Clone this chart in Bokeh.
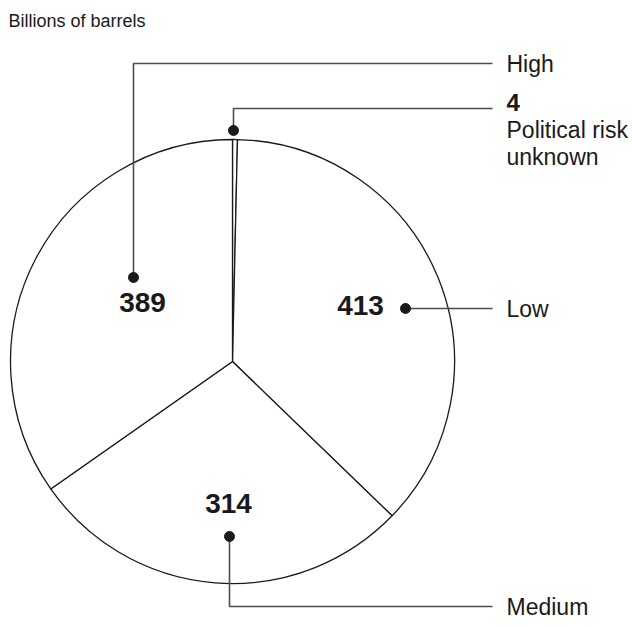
import math
from bokeh.plotting import figure
from bokeh.models import Range1d
from bokeh.core.properties import value
from bokeh.embed import file_html
from bokeh.resources import INLINE

# ---- data ----
title = "Billions of barrels"
categories = ["Political risk unknown", "Low", "Medium", "High"]
values = [4, 413, 314, 389]
value_labels = ["4", "413", "314", "389"]
category_labels = ["Political risk\nunknown", "Low", "Medium", "High"]

# ---- layout (reference pixel coordinates, y downwards) ----
W, H = 632, 627
CX, CY_S, R = 232, 361, 222
def Y(ys):
    return H - ys

# value label visual centre (x, y) in screen px
value_pos = [(506, 102), (360, 305), (228, 503), (142, 302)]
value_size = ["24px", "28px", "28px", "28px"]
value_align = ["left", "center", "center", "center"]
# leader dots and elbows
dot_pos = [(233, 130), (405, 308), (229, 536), (133, 277)]
elbow_y = [108, 308, 606, 63]
leader_end_x = 492
cat_x = 506
cat_center = [129, 308, 606, 63]
line_gap = 27
FONT = "Liberation Sans"

p = figure(width=W, height=H, x_range=Range1d(0, W), y_range=Range1d(0, H),
           output_backend="svg", toolbar_location=None, min_border=0)
p.axis.visible = False
p.grid.visible = False
p.outline_line_color = None
p.background_fill_color = "white"
p.border_fill_color = "white"

# ---- pie (clockwise from 12 o'clock) ----
total = float(sum(values))
starts, ends = [], []
theta = 0.0
for v in values:
    t1 = theta
    t2 = theta + v / total * 2 * math.pi
    starts.append(math.pi / 2 - t2)
    ends.append(math.pi / 2 - t1)
    theta = t2
p.wedge(x=[CX] * len(values), y=[Y(CY_S)] * len(values), radius=R,
        start_angle=starts, end_angle=ends,
        fill_color="white", line_color="#1a1a1a", line_width=1.3)

# ---- leaders ----
xs, ys = [], []
for (dx, dy), ey in zip(dot_pos, elbow_y):
    if abs(dy - ey) < 1:
        xs.append([dx, leader_end_x]); ys.append([Y(dy), Y(ey)])
    else:
        xs.append([dx, dx, leader_end_x]); ys.append([Y(dy), Y(ey), Y(ey)])
p.multi_line(xs=xs, ys=ys, line_color="#4d4d4d", line_width=1.6)
p.scatter(x=[d[0] for d in dot_pos], y=[Y(d[1]) for d in dot_pos], size=10,
          fill_color="#1a1a1a", line_color="#1a1a1a")

# ---- value labels ----
for lab, (vx, vy), sz, al in zip(value_labels, value_pos, value_size, value_align):
    p.text(x=[vx], y=[Y(vy)], text=[lab], text_font=value(FONT), text_font_style="bold",
           text_font_size=sz, text_align=al, text_baseline="middle", text_color="#1a1a1a")

# ---- category labels ----
for lab, cy in zip(category_labels, cat_center):
    for i, line in enumerate(lab.split("\n")):
        p.text(x=[cat_x], y=[Y(cy + i * line_gap)], text=[line], text_font=value(FONT),
               text_font_size="23px", text_align="left", text_baseline="middle",
               text_color="#1a1a1a")

# ---- title ----
p.text(x=[8], y=[Y(20)], text=[title], text_font=value(FONT), text_font_size="18px",
       text_align="left", text_baseline="middle", text_color="#1a1a1a")

open("out.html", "w").write(file_html(p, INLINE))
